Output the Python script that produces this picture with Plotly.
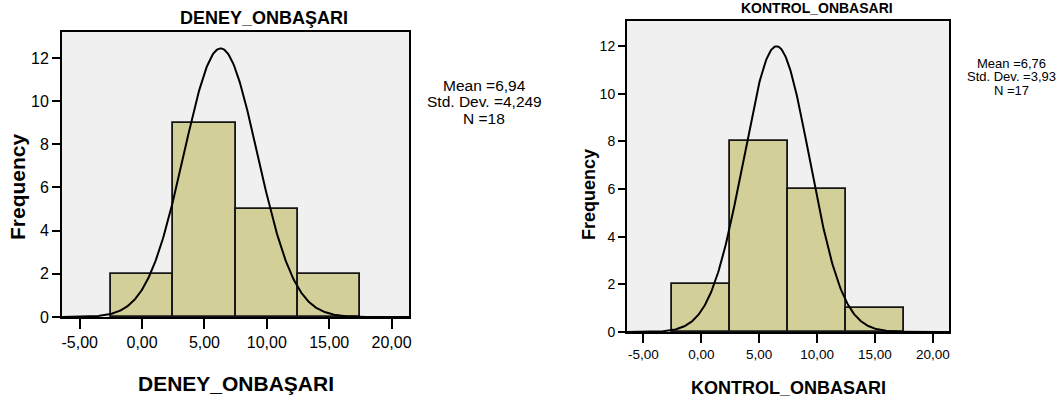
import numpy as np
import plotly.graph_objects as go

# ---------------- data ----------------
bin_centers = [0, 5, 10, 15]
bin_width = 5
deney_counts = [2, 9, 5, 2]
kontrol_counts = [2, 8, 6, 1]

x_tick_vals = [-5, 0, 5, 10, 15, 20]
x_tick_text = ["-5,00", "0,00", "5,00", "10,00", "15,00", "20,00"]
y_tick_vals = [0, 2, 4, 6, 8, 10, 12]
y_tick_text = ["0", "2", "4", "6", "8", "10", "12"]

# fitted normal curves as drawn (centre, spread, peak height)
deney_curve = dict(center=6.3, sigma=2.95, peak=12.44)
kontrol_curve = dict(center=6.5, sigma=2.85, peak=12.0)

deney_stats = ["Mean =6,94", "Std. Dev. =4,249", "N =18"]
kontrol_stats = ["Mean =6,76", "Std. Dev. =3,93", "N =17"]

deney_name = "DENEY_ONBAŞARI"
kontrol_name = "KONTROL_ONBASARI"

# ---------------- styling ----------------
W, H = 1059, 405
FONT = "Liberation Sans, Arial, sans-serif"
BAR_COLOR = "#D3CF99"
BG = "#F0F0F0"
x_range = [-6.42, 21.4]


def px(x):
    return x / W


def py(y):
    return 1 - y / H


def curve(params):
    xs = np.linspace(x_range[0], x_range[1], 400)
    ys = params["peak"] * np.exp(-((xs - params["center"]) ** 2) / (2 * params["sigma"] ** 2))
    return xs, ys


fig = go.Figure()

# left
fig.add_trace(go.Bar(x=bin_centers, y=deney_counts, width=bin_width,
                     marker=dict(color=BAR_COLOR, line=dict(color="#161616", width=1.8)),
                     xaxis="x", yaxis="y", showlegend=False, hoverinfo="skip"))
cx, cy = curve(deney_curve)
fig.add_trace(go.Scatter(x=cx, y=cy, mode="lines", line=dict(color="black", width=2),
                         xaxis="x", yaxis="y", showlegend=False, hoverinfo="skip"))
# right
fig.add_trace(go.Bar(x=bin_centers, y=kontrol_counts, width=bin_width,
                     marker=dict(color=BAR_COLOR, line=dict(color="#161616", width=1.8)),
                     xaxis="x2", yaxis="y2", showlegend=False, hoverinfo="skip"))
cx, cy = curve(kontrol_curve)
fig.add_trace(go.Scatter(x=cx, y=cy, mode="lines", line=dict(color="black", width=2),
                         xaxis="x2", yaxis="y2", showlegend=False, hoverinfo="skip"))


def xaxis(domain, anchor, fs, ticklen):
    return dict(domain=domain, anchor=anchor, range=x_range, tickmode="array",
                tickvals=x_tick_vals, ticktext=x_tick_text, showgrid=False, zeroline=False,
                showline=True, linecolor="black", linewidth=2, mirror=True,
                ticks="outside", ticklen=ticklen, tickwidth=2, tickcolor="black",
                automargin=False,
                tickfont=dict(family=FONT, size=fs, color="black"))


def yaxis(domain, anchor, rng, fs, ticklen):
    return dict(domain=domain, anchor=anchor, range=rng, tickmode="array",
                tickvals=y_tick_vals, ticktext=y_tick_text, showgrid=False, zeroline=False,
                showline=True, linecolor="black", linewidth=2, mirror=True,
                ticks="outside", ticklen=ticklen, tickwidth=2, tickcolor="black",
                automargin=False,
                tickfont=dict(family=FONT, size=fs, color="black"))


annotations = []


def ann(text, x, y, size, bold=False, angle=0):
    annotations.append(dict(text=f"<b>{text}</b>" if bold else text, x=px(x), y=py(y),
                            xref="paper", yref="paper", showarrow=False, textangle=angle,
                            xanchor="center", yanchor="middle",
                            font=dict(family=FONT, size=size, color="black")))


# titles
ann(deney_name, 264, 18, 18, bold=True)
ann(kontrol_name, 817, 8, 14, bold=True)
# x titles
ann(deney_name, 236, 383, 21, bold=True)
ann(kontrol_name, 788, 388, 18, bold=True)
# y titles
ann("Frequency", 18, 187, 21, bold=True, angle=-90)
ann("Frequency", 589, 195, 18, bold=True, angle=-90)
# stats
for i, t in enumerate(deney_stats):
    ann(t, 484, 85 + i * 16.5, 15.5)
for i, t in enumerate(kontrol_stats):
    ann(t, 1011, 63 + i * 13.5, 13)

fig.update_layout(
    width=W, height=H,
    margin=dict(l=0, r=0, t=0, b=0),
    paper_bgcolor="white", plot_bgcolor=BG,
    bargap=0,
    xaxis=xaxis([px(62), px(409)], "y", 16, 10),
    yaxis=yaxis([(H - 317) / H, (H - 32) / H], "x", [0, 13.2], 16, 8),
    xaxis2=xaxis([px(627), px(949)], "y2", 13.5, 9),
    yaxis2=yaxis([(H - 332) / H, (H - 21) / H], "x2", [0, 13.06], 14, 7),
    annotations=annotations,
)

fig.write_html("out.html",
               config={"displayModeBar": False},
               post_script="document.body.style.margin='0';document.body.style.padding='0';")
